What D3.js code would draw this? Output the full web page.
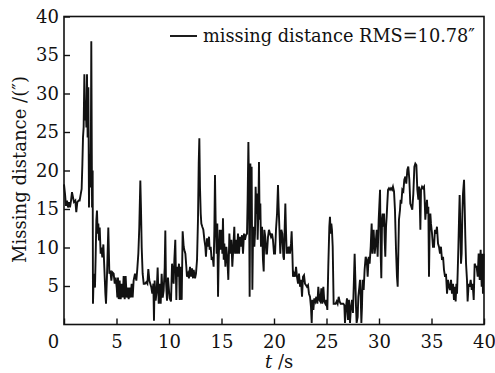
<!DOCTYPE html>
<html><head><meta charset="utf-8">
<script src="https://cdn.jsdelivr.net/npm/d3@7"></script>
<style>
html,body{margin:0;padding:0;background:#fff;}
svg{display:block;}
</style></head>
<body>
<svg id="chart" width="495" height="373"></svg>
<script>
// ---- data ----
const timeS = [
0.00,0.10,0.19,0.29,0.38,0.48,0.57,0.67,0.76,0.86,0.95,1.08,1.17,1.27,1.40,1.49,1.59,1.68,1.75,1.81,1.87,1.94,2.00,2.06,2.13,2.19,2.25,2.32,2.38,2.44,2.51,2.57,2.60,2.67,2.73,2.76,2.83,2.89,2.95,3.02,3.08,3.14,3.21,3.27,3.33,3.40,3.49,3.56,3.65,3.75,3.84,3.94,4.00,4.10,4.22,4.32,4.41,4.51,4.60,4.73,4.83,4.92,5.02,5.08,5.14,5.21,5.30,5.40,5.49,5.59,5.68,5.78,5.87,5.97,6.06,6.16,6.25,6.35,6.44,6.54,6.63,6.76,6.89,6.98,7.08,7.17,7.27,7.33,7.40,7.49,7.59,7.71,7.84,7.94,8.03,8.13,8.22,8.32,8.41,8.51,8.57,8.63,8.73,8.83,8.92,9.02,9.11,9.21,9.30,9.40,9.49,9.59,9.65,9.71,9.81,9.90,
10.06,10.19,10.29,10.38,10.44,10.51,10.60,10.70,10.76,10.86,10.95,11.02,11.11,11.21,11.30,11.40,11.49,11.56,11.65,11.71,11.81,11.90,12.00,12.10,12.19,12.29,12.35,12.48,12.57,12.67,12.76,12.83,12.89,12.95,13.02,13.08,13.17,13.27,13.37,13.46,13.52,13.62,13.71,13.81,13.87,13.97,14.06,14.16,14.25,14.32,14.38,14.44,14.54,14.60,14.67,14.73,14.83,14.92,15.02,15.08,15.14,15.21,15.27,15.37,15.46,15.56,15.65,15.75,15.84,15.94,16.03,16.13,16.22,16.29,16.38,16.48,16.57,16.67,16.76,16.86,16.95,17.05,17.14,17.24,17.33,17.43,17.49,17.56,17.62,17.68,17.75,17.81,17.87,17.94,18.00,18.06,18.13,18.19,18.25,18.32,18.38,18.44,18.51,18.57,18.63,18.70,18.76,18.86,18.95,19.02,19.08,19.17,19.27,19.33,19.43,19.52,19.62,19.71,19.81,19.90,20.00,
20.10,20.19,20.29,20.38,20.44,20.51,20.60,20.70,20.79,20.89,20.95,21.02,21.08,21.14,21.21,21.27,21.33,21.43,21.52,21.62,21.68,21.75,21.81,21.90,22.00,22.10,22.19,22.29,22.38,22.48,22.57,22.67,22.76,22.86,22.95,23.05,23.14,23.24,23.33,23.43,23.52,23.59,23.65,23.75,23.84,23.94,24.03,24.13,24.22,24.32,24.41,24.51,24.60,24.70,24.79,24.89,24.98,25.08,25.17,25.27,25.33,25.40,25.46,25.52,25.59,25.68,25.78,25.87,25.97,26.06,26.16,26.25,26.35,26.48,26.60,26.70,26.76,26.86,26.95,27.05,27.14,27.24,27.33,27.43,27.52,27.62,27.68,27.75,27.81,27.87,27.97,28.03,28.13,28.19,28.25,28.32,28.38,28.44,28.54,28.63,28.73,28.83,28.92,29.02,29.11,29.21,29.30,29.37,29.43,29.49,29.59,29.68,29.78,29.87,29.97,
30.10,30.16,30.22,30.29,30.35,30.41,30.48,30.54,30.60,30.67,30.73,30.79,30.86,30.95,31.05,31.14,31.24,31.33,31.43,31.52,31.62,31.71,31.78,31.84,31.90,32.00,32.06,32.13,32.22,32.32,32.41,32.51,32.60,32.70,32.79,32.89,32.98,33.08,33.17,33.27,33.37,33.46,33.56,33.65,33.75,33.81,33.87,33.94,34.00,34.10,34.19,34.29,34.35,34.41,34.48,34.57,34.63,34.70,34.76,34.83,34.89,34.95,35.05,35.14,35.24,35.33,35.43,35.52,35.62,35.71,35.81,35.90,36.00,36.10,36.19,36.29,36.38,36.48,36.57,36.67,36.76,36.86,36.95,37.05,37.14,37.24,37.30,37.37,37.43,37.49,37.56,37.62,37.68,37.75,37.81,37.87,37.94,38.00,38.10,38.16,38.22,38.29,38.38,38.44,38.54,38.63,38.73,38.83,38.92,39.02,39.11,39.21,39.30,39.40,39.49,39.59,39.68,39.78,39.84,39.90,39.97
];
const missDist = [
18.2,16.9,15.4,16.1,15.2,15.9,15.2,16.1,17.2,16.5,15.9,16.1,14.6,15.9,16.1,16.1,16.9,17.6,20.8,24.3,25.6,32.5,26.5,29.1,25.6,32.5,24.3,30.8,15.2,22.1,17.8,26.5,36.8,15.2,20.0,2.7,6.6,5.7,4.8,9.2,13.5,14.8,11.8,13.1,10.9,12.6,9.2,10.0,8.7,10.4,7.4,4.0,2.7,6.6,12.6,6.6,7.0,5.7,6.8,6.6,5.3,6.1,4.8,3.5,6.1,3.3,5.7,3.3,5.3,3.5,6.3,3.3,6.3,3.5,4.8,3.3,4.8,3.5,5.3,3.5,5.7,6.6,5.7,7.2,9.2,12.6,18.7,15.2,10.0,6.6,5.3,5.3,5.5,5.3,7.2,5.7,5.3,4.8,4.0,5.3,0.5,5.7,3.1,4.4,7.4,2.7,5.3,2.7,6.6,3.5,4.4,7.4,12.2,5.7,3.1,6.1,
3.4,3.0,7.9,6.2,5.3,8.4,11.0,3.2,7.5,6.2,7.9,3.2,7.5,3.2,12.1,10.1,9.5,9.2,7.5,6.2,6.6,6.0,7.5,6.2,7.3,6.0,7.1,6.0,6.6,8.4,13.6,20.9,24.2,17.9,14.4,13.1,12.7,12.3,11.0,10.1,8.8,11.2,10.1,11.4,9.7,10.1,8.4,8.8,7.5,12.3,19.4,13.6,9.2,13.1,3.6,8.4,12.3,9.7,12.3,9.2,13.8,8.4,10.5,7.5,10.1,8.4,5.8,11.8,9.2,11.0,7.5,10.1,12.7,9.2,11.0,9.2,11.8,9.2,11.4,10.1,11.6,9.2,11.8,11.0,11.6,11.8,16.2,23.7,17.9,3.6,20.9,13.6,20.5,4.5,11.4,12.7,10.1,11.8,17.9,14.4,17.0,11.0,14.4,21.1,13.6,15.7,10.1,12.7,8.4,6.9,12.3,11.4,9.2,9.2,11.4,12.3,11.8,11.4,11.8,11.0,9.2,
9.2,12.3,14.4,18.1,15.3,12.7,9.2,12.3,11.8,8.8,8.4,12.7,15.7,12.3,9.2,10.1,9.2,10.1,9.2,10.5,12.1,9.2,6.2,6.6,6.2,7.5,6.2,5.3,6.6,4.9,5.8,3.6,6.2,6.4,5.3,5.1,4.9,5.1,4.0,3.6,2.3,0.2,3.2,1.9,3.4,3.0,3.6,2.7,4.9,3.2,3.0,4.7,2.7,4.9,3.0,2.7,3.2,1.9,7.5,12.7,14.0,11.8,13.1,12.3,10.1,2.7,2.7,2.7,3.0,2.7,3.6,3.0,2.7,2.7,2.7,2.5,0.2,2.3,3.4,0.6,3.2,0.2,2.3,3.2,1.5,6.2,9.2,5.8,2.3,0.2,1.0,3.6,4.9,5.8,4.0,0.2,2.3,5.8,4.5,7.1,8.8,8.4,6.2,8.8,7.9,10.1,13.1,9.2,11.4,12.3,9.2,10.5,12.3,8.8,13.6,
17.5,9.2,6.0,13.6,14.4,12.7,14.4,11.0,8.8,12.7,14.0,15.7,17.5,17.7,17.5,17.7,17.5,17.9,17.3,14.9,9.7,6.2,4.9,9.2,13.6,14.9,16.2,15.7,17.5,17.3,18.8,19.2,18.3,20.1,20.5,18.8,15.7,15.3,14.9,17.0,20.5,20.9,20.7,17.5,16.2,17.9,16.6,12.3,17.5,17.9,17.7,17.9,16.2,13.6,14.9,16.2,14.4,15.3,6.2,12.7,14.4,13.1,11.8,10.1,10.1,12.3,11.8,12.7,10.5,10.1,9.2,10.1,8.4,8.8,7.1,6.2,6.6,4.0,5.8,4.9,4.5,5.8,4.0,5.3,3.2,4.9,3.0,5.3,4.0,6.6,10.1,13.6,16.8,12.3,7.9,9.2,14.4,17.0,18.8,15.3,11.4,7.9,5.8,3.0,5.3,4.9,5.8,4.5,5.3,3.2,7.9,7.5,7.5,6.2,9.2,5.8,9.7,4.9,9.2,4.0,9.2
];
const xTicks = [0,5,10,15,20,25,30,35,40];
const yTicks = [5,10,15,20,25,30,35,40];
const legendLabel = "missing distance RMS=10.78\u2033";
const yTitle = "Missing distance /(\u2033)";

// ---- layout ----
const FONT = "DejaVu Serif";
const svg = d3.select("#chart");
const L = 64, T = 16.5, R = 484, B = 324.5;
const x = d3.scaleLinear().domain([0, 40]).range([L, R]);
const y = d3.scaleLinear().domain([0, 40]).range([B, T]);
const FS = 18;

// data line
const pts = timeS.map((t, i) => [t, missDist[i]]);
svg.append("path")
  .datum(pts)
  .attr("fill", "none")
  .attr("stroke", "#111")
  .attr("stroke-width", 1.9)
  .attr("stroke-linejoin", "miter")
  .attr("d", d3.line().x(d => x(d[0])).y(d => y(d[1])));

// axes
const xAxis = svg.append("g").attr("transform", `translate(0,${B})`)
  .call(d3.axisBottom(x).tickValues(xTicks).tickFormat(d3.format("d"))
    .tickSizeInner(-6).tickSizeOuter(0).tickPadding(11));
const yAxis = svg.append("g").attr("transform", `translate(${L},0)`)
  .call(d3.axisLeft(y).tickValues(yTicks).tickFormat(d3.format("d"))
    .tickSizeInner(-6).tickSizeOuter(0).tickPadding(5));
[xAxis, yAxis].forEach(g => {
  g.attr("font-family", FONT);
  g.select(".domain").remove();
  g.selectAll(".tick line").attr("stroke", "#111").attr("stroke-width", 1.4);
  g.selectAll(".tick text").attr("font-size", FS).attr("font-family", FONT).attr("fill", "#111");
});
xAxis.selectAll(".tick text").filter(d => d === 0).attr("dx", -11);

// frame
svg.append("rect").attr("x", L).attr("y", T).attr("width", R - L).attr("height", B - T)
  .attr("fill", "none").attr("stroke", "#111").attr("stroke-width", 1.6);

// axis titles
const xt = svg.append("text").attr("x", 265).attr("y", 368)
  .attr("font-family", FONT).attr("font-size", FS).attr("fill", "#111");
xt.append("tspan").attr("font-style", "italic").text("t");
xt.append("tspan").text(" /s");

svg.append("text")
  .attr("transform", `translate(26,${(T + B) / 2 - 1}) rotate(-90)`)
  .attr("text-anchor", "middle").attr("font-family", FONT).attr("font-size", FS)
  .attr("fill", "#111")
  .attr("textLength", 187).attr("lengthAdjust", "spacingAndGlyphs")
  .text(yTitle);

// legend
svg.append("line").attr("x1", 170).attr("x2", 197).attr("y1", 36).attr("y2", 36)
  .attr("stroke", "#111").attr("stroke-width", 1.9);
svg.append("text").attr("x", 203).attr("y", 42).attr("font-family", FONT).attr("font-size", FS)
  .attr("fill", "#111")
  .attr("textLength", 272).attr("lengthAdjust", "spacingAndGlyphs")
  .text(legendLabel);
</script>
</body></html>
